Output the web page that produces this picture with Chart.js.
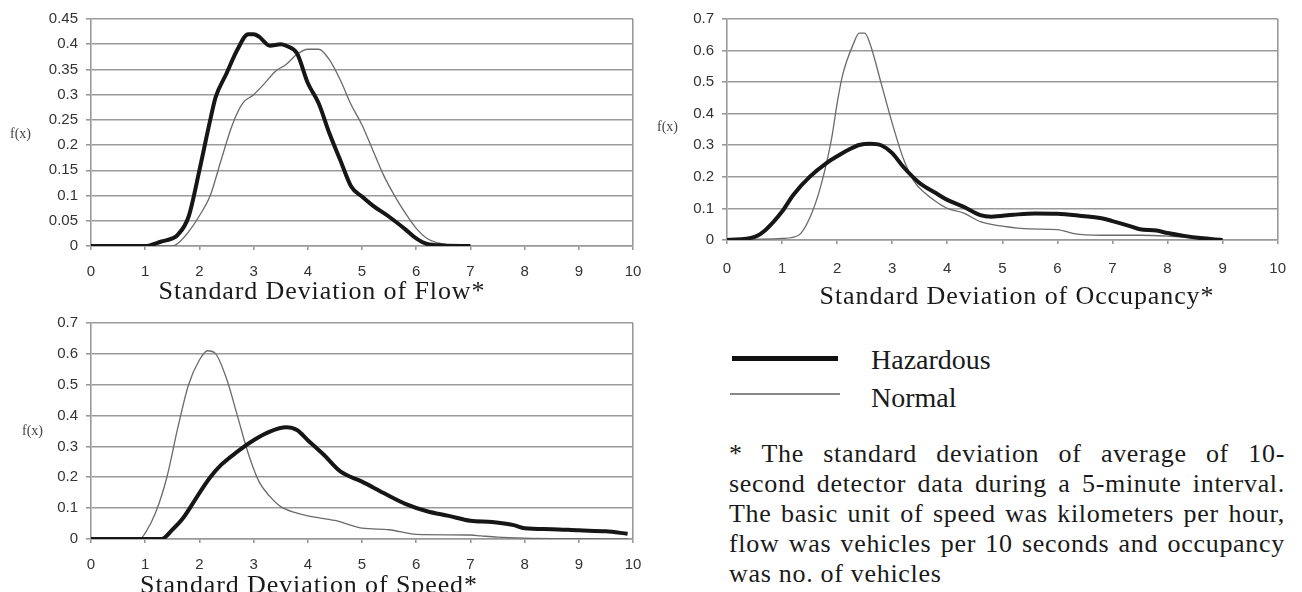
<!DOCTYPE html>
<html>
<head>
<meta charset="utf-8">
<script src="https://cdn.jsdelivr.net/npm/chart.js@4.4.0/dist/chart.umd.min.js"></script>
<style>
html, body { margin: 0; padding: 0; background: #fff; width: 1302px; height: 592px; overflow: hidden; }
canvas { position: absolute; }
.serif { position: absolute; font-family: 'Liberation Serif', 'Times New Roman', serif; color: #1a1a1a; white-space: nowrap; }
.xtitle { font-size: 26px; line-height: 26px; letter-spacing: 0.9px; text-align: center; width: 500px; }
.fx { position: absolute; font-family: 'Liberation Serif', serif; font-size: 14px; color: #444; }
.key { position: absolute; }
.note { left: 729px; top: 439px; width: 556px; font-size: 26px; line-height: 30px; letter-spacing: 0.7px; }
.note span { display: block; text-align: justify; text-align-last: justify; white-space: nowrap; }
.note span.last { text-align-last: left; }
</style>
</head>
<body>
<canvas id="flow" width="660" height="300" style="left:0;top:0"></canvas>
<canvas id="occ" width="642" height="310" style="left:660px;top:0"></canvas>
<canvas id="speed" width="660" height="292" style="left:0;top:300px"></canvas>

<div class="fx" style="left:10px;top:126px">f(x)</div>
<div class="fx" style="left:657px;top:119px">f(x)</div>
<div class="fx" style="left:22px;top:423px">f(x)</div>

<div class="serif xtitle" style="left:72px;top:278px">Standard Deviation of Flow*</div>
<div class="serif xtitle" style="left:767px;top:283px">Standard Deviation of Occupancy*</div>
<div class="serif xtitle" style="left:59px;top:572px">Standard Deviation of Speed*</div>

<div class="key" style="left:732px;top:356px;width:106px;height:5px;background:#111"></div>
<div class="key" style="left:730px;top:393px;width:110px;height:2px;background:#888"></div>
<div class="serif" style="left:871px;top:346px;font-size:28px;line-height:28px">Hazardous</div>
<div class="serif" style="left:871px;top:384px;font-size:28px;line-height:28px">Normal</div>

<div class="serif note">
<span>* The standard deviation of average of 10-</span>
<span>second detector data during a 5-minute interval.</span>
<span>The basic unit of speed was kilometers per hour,</span>
<span>flow was vehicles per 10 seconds and occupancy</span>
<span class="last">was no. of vehicles</span>
</div>

<script>
// tick values
const xTicks = [0, 1, 2, 3, 4, 5, 6, 7, 8, 9, 10];
const flowYTicks = [0, 0.05, 0.1, 0.15, 0.2, 0.25, 0.3, 0.35, 0.4, 0.45];
const occYTicks = [0, 0.1, 0.2, 0.3, 0.4, 0.5, 0.6, 0.7];
const speedYTicks = [0, 0.1, 0.2, 0.3, 0.4, 0.5, 0.6, 0.7];

// flow
const flowHazX = [0, 1.0, 1.3, 1.5, 1.6, 1.8, 2.0, 2.2, 2.3, 2.5, 2.7, 2.9, 3.0, 3.1, 3.3, 3.5, 3.6, 3.8, 4.0, 4.2, 4.4, 4.6, 4.8, 5.0, 5.2, 5.5, 5.8, 6.0, 6.2, 6.5, 7.0];
const flowHazY = [0, 0, 0.009, 0.015, 0.022, 0.058, 0.15, 0.25, 0.295, 0.342, 0.389, 0.42, 0.42, 0.415, 0.397, 0.40, 0.397, 0.382, 0.323, 0.283, 0.223, 0.17, 0.118, 0.098, 0.08, 0.058, 0.033, 0.015, 0.004, 0.001, 0];
const flowNormX = [0, 1.5, 1.6, 1.8, 2.0, 2.2, 2.4, 2.6, 2.8, 3.0, 3.2, 3.4, 3.6, 3.8, 4.0, 4.2, 4.4, 4.6, 4.8, 5.0, 5.2, 5.4, 5.6, 5.8, 6.0, 6.2, 6.4, 6.6, 7.0];
const flowNormY = [0, 0, 0.005, 0.028, 0.06, 0.10, 0.17, 0.238, 0.283, 0.30, 0.322, 0.346, 0.36, 0.38, 0.39, 0.39, 0.369, 0.329, 0.28, 0.24, 0.19, 0.14, 0.10, 0.065, 0.035, 0.015, 0.006, 0.002, 0];

// occupancy
const occHazX = [0, 0.5, 0.7, 1.0, 1.2, 1.5, 1.8, 2.0, 2.2, 2.4, 2.6, 2.8, 3.0, 3.2, 3.5, 3.8, 4.0, 4.3, 4.6, 4.8, 5.2, 5.6, 6.0, 6.4, 6.8, 7.0, 7.3, 7.5, 7.8, 8.0, 8.3, 8.6, 9.0];
const occHazY = [0, 0.01, 0.032, 0.09, 0.142, 0.2, 0.243, 0.265, 0.285, 0.301, 0.305, 0.30, 0.275, 0.232, 0.18, 0.148, 0.127, 0.105, 0.079, 0.074, 0.08, 0.084, 0.083, 0.077, 0.069, 0.06, 0.045, 0.034, 0.03, 0.022, 0.013, 0.006, 0];
const occNormX = [0, 1.0, 1.3, 1.5, 1.7, 1.9, 2.0, 2.1, 2.3, 2.4, 2.5, 2.6, 2.8, 3.0, 3.2, 3.4, 3.6, 3.8, 4.0, 4.3, 4.6, 5.0, 5.5, 6.0, 6.3, 6.8, 7.5, 8.0, 8.5, 9.0];
const occNormY = [0, 0.005, 0.015, 0.069, 0.169, 0.322, 0.433, 0.523, 0.623, 0.655, 0.655, 0.62, 0.496, 0.37, 0.259, 0.185, 0.148, 0.121, 0.10, 0.085, 0.058, 0.044, 0.035, 0.033, 0.02, 0.015, 0.015, 0.012, 0.006, 0];

// speed
const speedHazX = [0, 1.3, 1.5, 1.7, 2.0, 2.2, 2.4, 2.7, 3.0, 3.3, 3.6, 3.8, 4.0, 4.3, 4.6, 5.0, 5.4, 5.8, 6.2, 6.6, 7.0, 7.4, 7.8, 8.0, 8.5, 9.0, 9.5, 9.9];
const speedHazY = [0, 0, 0.03, 0.068, 0.149, 0.2, 0.24, 0.283, 0.32, 0.348, 0.362, 0.353, 0.32, 0.272, 0.219, 0.186, 0.149, 0.114, 0.09, 0.075, 0.059, 0.055, 0.045, 0.035, 0.032, 0.028, 0.025, 0.017];
const speedNormX = [0, 0.9, 1.0, 1.2, 1.4, 1.6, 1.8, 2.0, 2.15, 2.3, 2.5, 2.7, 2.9, 3.1, 3.3, 3.5, 3.8, 4.0, 4.5, 5.0, 5.5, 6.0, 7.0, 7.2, 7.5, 8.0, 9.0, 9.9];
const speedNormY = [0, 0, 0.019, 0.089, 0.2, 0.359, 0.5, 0.58, 0.61, 0.60, 0.52, 0.40, 0.278, 0.186, 0.138, 0.105, 0.084, 0.075, 0.06, 0.035, 0.03, 0.015, 0.013, 0.01, 0.006, 0.003, 0.001, 0];

const gridGray = '#999';
const tickFont = { family: "'Liberation Sans', Arial, sans-serif", size: 15 };

function pts(xs, ys) {
    return xs.map((x, i) => ({ x: x, y: ys[i] }));
}

function makeChart(id, hazX, hazY, normX, normY, yTicks, opt) {
    return new Chart(id, {
        type: 'line',
        data: {
            datasets: [{
                label: 'Hazardous',
                data: pts(hazX, hazY),
                borderColor: '#161616',
                borderWidth: 4,
                cubicInterpolationMode: 'monotone'
            }, {
                label: 'Normal',
                data: pts(normX, normY),
                borderColor: '#6a6a6a',
                borderWidth: 1.3,
                cubicInterpolationMode: 'monotone'
            }]
        },
        options: {
            responsive: false,
            animation: false,
            events: [],
            layout: { padding: { top: opt.top, right: opt.right, left: 0, bottom: 0 } },
            elements: { point: { radius: 0 } },
            plugins: { legend: { display: false }, tooltip: { enabled: false } },
            scales: {
                x: {
                    type: 'linear',
                    min: 0,
                    max: 10,
                    afterBuildTicks: s => { s.ticks = xTicks.map(v => ({ value: v })); },
                    afterFit: s => { s.height = opt.xh; },
                    grid: {
                        color: c => c.tick && c.tick.value === 10 ? gridGray : 'rgba(0,0,0,0)',
                        tickColor: gridGray,
                        tickLength: 4,
                        lineWidth: 1.6
                    },
                    border: { color: gridGray, width: 1.6 },
                    ticks: { font: tickFont, color: '#333', padding: opt.xpad, maxRotation: 0 }
                },
                y: {
                    min: 0,
                    max: yTicks[yTicks.length - 1],
                    afterBuildTicks: s => { s.ticks = yTicks.map(v => ({ value: v })); },
                    afterFit: s => { s.width = opt.yw; },
                    grid: { color: gridGray, tickColor: gridGray, tickLength: 5, lineWidth: 1.6 },
                    border: { color: gridGray, width: 1.6 },
                    ticks: {
                        font: tickFont,
                        color: '#333',
                        padding: 8,
                        callback: v => String(+v.toFixed(2))
                    }
                }
            }
        }
    });
}

makeChart('flow', flowHazX, flowHazY, flowNormX, flowNormY, flowYTicks, { top: 19, right: 27, yw: 91, xh: 54, xpad: 13 });
makeChart('occ', occHazX, occHazY, occNormX, occNormY, occYTicks, { top: 19, right: 21, yw: 67, xh: 70, xpad: 16 });
makeChart('speed', speedHazX, speedHazY, speedNormX, speedNormY, speedYTicks, { top: 23, right: 27, yw: 91, xh: 53, xpad: 13 });
</script>
</body>
</html>
